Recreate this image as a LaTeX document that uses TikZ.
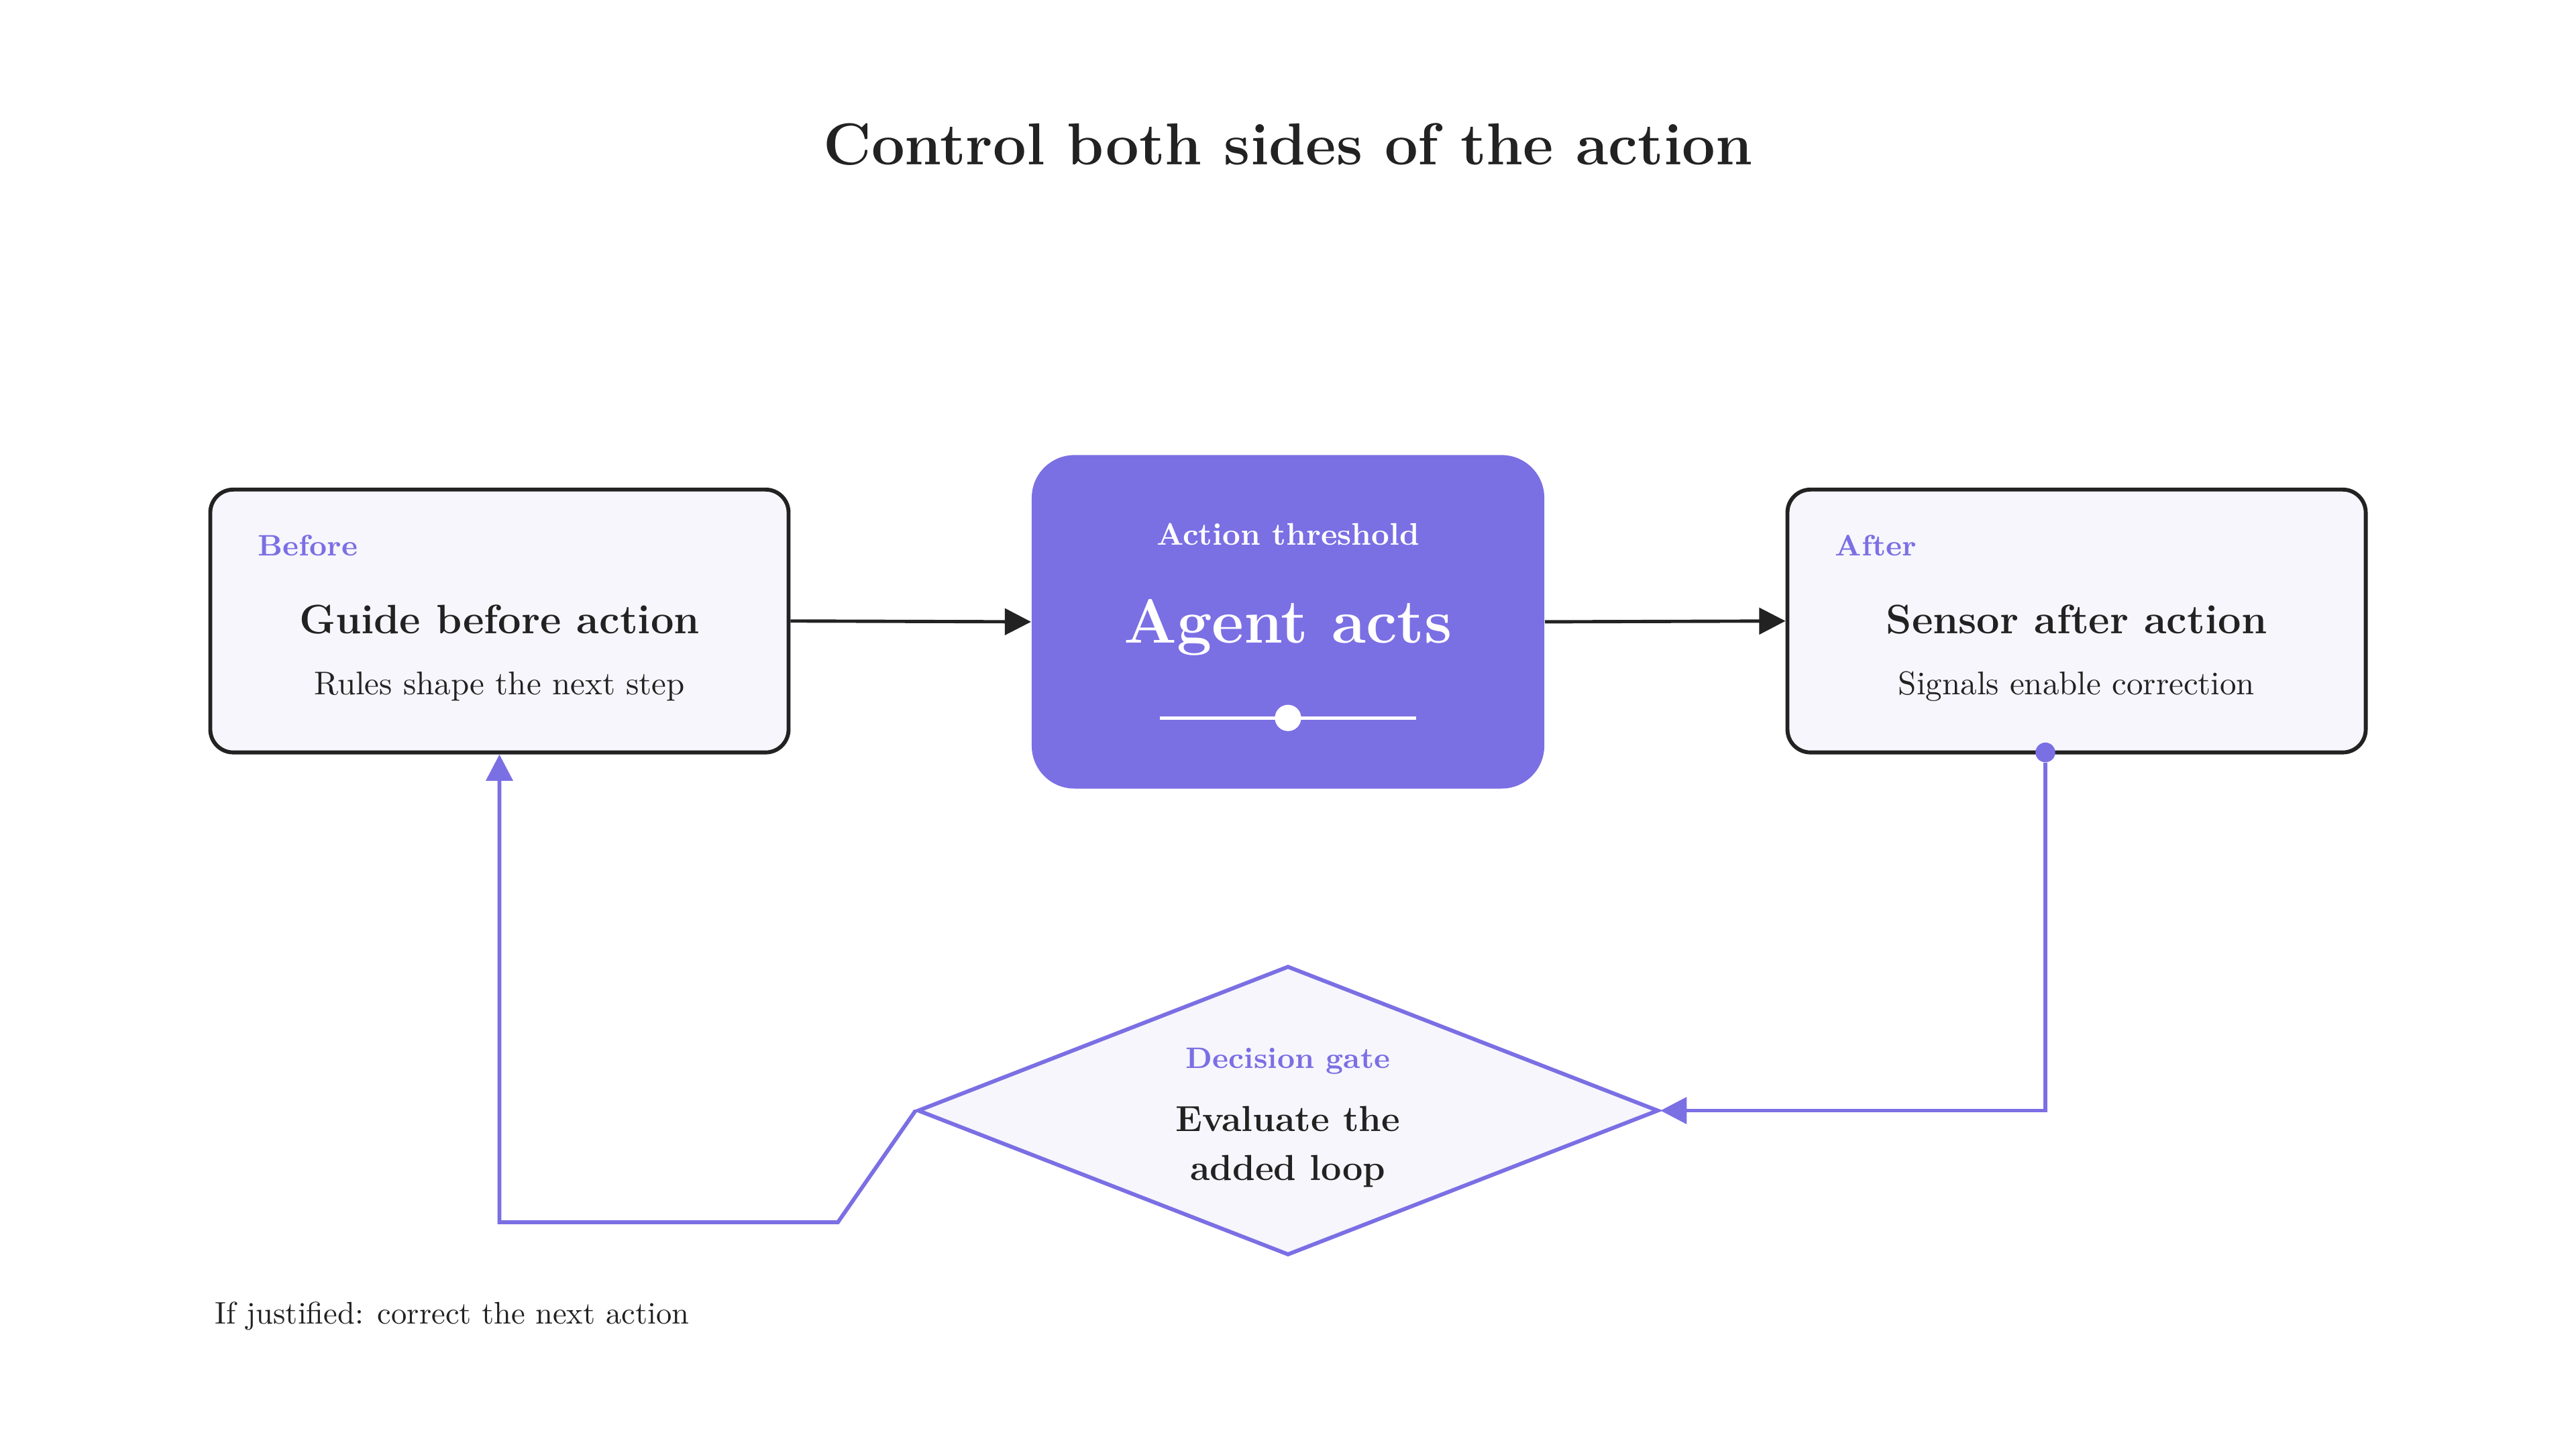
\documentclass[tikz,border=0pt]{standalone}
\usepackage{tikz}
\usetikzlibrary{arrows.meta, positioning, shapes.geometric}
\definecolor{violet}{HTML}{7B6FE4}
\definecolor{paper}{HTML}{F6F6FC}
\definecolor{ink}{HTML}{222222}
\tikzset{
  side/.style={draw=ink, line width=1.2pt, fill=paper, rounded corners=7pt, minimum width=176pt, minimum height=80pt},
  tag/.style={text=violet, font=\bfseries\fontsize{9}{10}\selectfont, anchor=west},
  head/.style={text=ink, font=\bfseries\fontsize{12.5}{14}\selectfont},
  sub/.style={text=ink, font=\fontsize{10}{12}\selectfont},
  flow/.style={draw=ink, line width=1pt, -{Triangle[length=8pt,width=8pt]}},
  back/.style={draw=violet, line width=1.2pt, -{Triangle[length=8pt,width=8pt]}}
}
\begin{document}
\begin{tikzpicture}[x=0.5pt, y=-0.5pt]
  \useasboundingbox[fill=white] (0,0) rectangle (1568,882);
  % Title
  \node[text=ink, font=\bfseries\fontsize{18}{20}\selectfont] (title) at (784,88) {Control both sides of the action};

  % Before / after boxes
  \node[side] (guide) at (304,378) {};
  \node[tag] (before) at (150,332) {Before};
  \node[head] (guidehead) at (304,377) {Guide before action};
  \node[sub] (guidesub) at (304,418) {Rules shape the next step};

  \node[side] (sensor) at (1264,378) {};
  \node[tag] (after) at (1110,332) {After};
  \node[head] (sensorhead) at (1264,377) {Sensor after action};
  \node[sub] (sensorsub) at (1264,418) {Signals enable correction};

  % Action threshold
  \node[fill=violet, rounded corners=13pt, minimum width=156pt, minimum height=101.5pt] (agent) at (784,378.5) {};
  \node[text=white, font=\bfseries\fontsize{9.5}{11}\selectfont] (threshold) at (784,325) {Action threshold};
  \node[text=white, font=\bfseries\fontsize{19}{22}\selectfont] (acts) at (784,382) {Agent acts};
  \coordinate (barl) at (706,437);
  \coordinate (barr) at (862,437);
  \draw[white, line width=1pt] (barl) -- (barr);
  \node[circle, fill=white, inner sep=0pt, minimum size=8pt] (knob) at (784,437) {};

  \draw[flow] (guide.east) -- (agent.west);
  \draw[flow] (agent.east) -- (sensor.west);

  % Decision gate
  \node[diamond, draw=violet, line width=1.2pt, fill=paper, inner sep=0pt, minimum width=225.5pt, minimum height=88pt] (gate) at (784,676) {};
  \node[text=violet, font=\bfseries\fontsize{9}{10}\selectfont] (gatetag) at (784,646) {Decision gate};
  \node[text=ink, align=center, font=\bfseries\fontsize{11}{15}\selectfont] (gatetext) at (784,698) {Evaluate the\\added loop};

  % Feedback loop
  \node[circle, fill=violet, inner sep=0pt, minimum size=6pt] (probe) at (1245,458) {};
  \coordinate (turnr) at (1245,676);
  \coordinate (kink) at (510,744);
  \coordinate (turnl) at (304,744);
  \draw[back] (probe) -- (turnr) -- (gate.east);
  \draw[back] (gate.west) -- (kink) -- (turnl) -- (guide.south);

  \node[text=ink, anchor=west, font=\fontsize{9.5}{11}\selectfont] (note) at (124,801) {If justified: correct the next action};
\end{tikzpicture}
\end{document}
